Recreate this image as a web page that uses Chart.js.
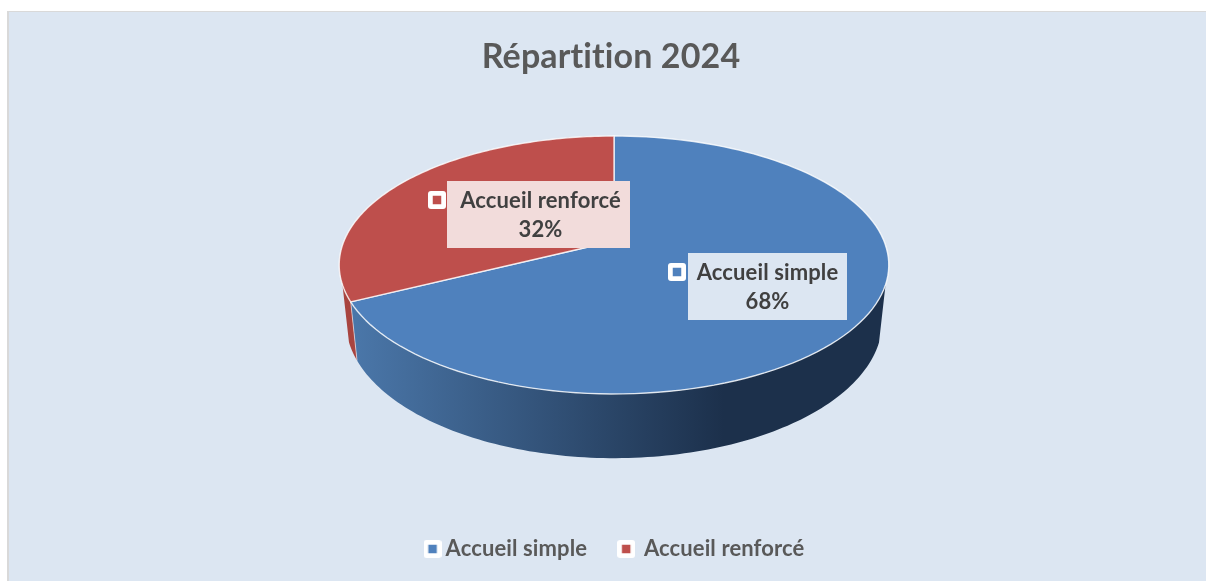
<!DOCTYPE html>
<html>
<head>
<meta charset="utf-8">
<title>Répartition 2024</title>
<script src="https://cdn.jsdelivr.net/npm/chart.js@4/dist/chart.umd.js"></script>
<style>
	html, body { margin: 0; padding: 0; background: #fff; overflow: hidden; }
	#panel { position: absolute; left: 7px; top: 11px; width: 1199px; height: 570px; background: #dce6f2; border-top: 1px solid #d9d9d9; border-left: 2px solid #d9d9d9; box-sizing: border-box; }
	#myChart { position: absolute; left: 22px; top: 0; }
</style>
</head>
<body>
<div id="panel"></div>
<canvas id="myChart" width="1184" height="581"></canvas>
<script>
const categories = ['Accueil simple', 'Accueil renforcé'];
const shares = [67.6, 32.4];
const colors = ['#4f81bd', '#be4f4c'];
const wallColors = [['#4a76a8', '#1c304b'], ['#a8443f', '#a8443f']];
const chartTitle = 'Répartition 2024';

// small white marker with the coloured square inside
function makeMarker(color) {
	const c = document.createElement('canvas');
	c.width = 18;
	c.height = 18;
	const g = c.getContext('2d');
	g.fillStyle = '#fff';
	g.beginPath();
	g.roundRect(0, 0, 18, 18, 3);
	g.fill();
	g.fillStyle = color;
	g.fillRect(4.75, 4.75, 8.5, 8.5);
	return c;
}
const markers = colors.map(makeMarker);

// Perspective view of the disc: the centre of the pie is not the centre of the ellipse
const K = 0.186;
function project(angle, rx, ry, cy, cx) {
	const u = Math.cos(angle), v = Math.sin(angle);
	const w = 1 - K * v;
	return [cx + rx * u / w, cy + ry * v / w];
}
const TOP = {rx: 270, ry: 124.5, cy: 241};
const BOTTOM = {rx: 263.5, ry: 132, cy: 296};
const VISIBLE_FROM = Math.asin(0.33);
const VISIBLE_TO = Math.PI - VISIBLE_FROM;

function traceCurve(ctx, a0, a1, f, cx, first) {
	const steps = 120;
	for (let i = 0; i <= steps; i++) {
		const p = project(a0 + (a1 - a0) * i / steps, f.rx, f.ry, f.cy, cx);
		if (i === 0 && first) ctx.moveTo(p[0], p[1]);
		else ctx.lineTo(p[0], p[1]);
	}
}

// a tiny letter spacing also switches off the Lato "ti" ligature
const textTweak = {
	id: 'textTweak',
	beforeLayout(chart) {
		chart.ctx.letterSpacing = '0.12px';
	},
	afterLayout(chart) {
		// the title sits a little left of the legend
		chart.titleBlock.left -= 13;
	},
	beforeDraw(chart) {
		chart.ctx.letterSpacing = '0.12px';
	}
};

const pie3d = {
	id: 'pie3d',
	beforeDatasetDraw(chart, args) {
		const ctx = chart.ctx;
		const cx = chart.width / 2;
		const arcs = chart.getDatasetMeta(args.index).data;
		// side wall
		arcs.forEach(function (arc, i) {
			const a0 = Math.max(arc.startAngle, VISIBLE_FROM);
			const a1 = Math.min(arc.endAngle, VISIBLE_TO);
			if (a1 <= a0) return;
			const grad = ctx.createLinearGradient(cx - 257, 0, cx + 110, 0);
			grad.addColorStop(0, wallColors[i][0]);
			grad.addColorStop(1, wallColors[i][1]);
			ctx.beginPath();
			traceCurve(ctx, a0, a1, TOP, cx, true);
			traceCurve(ctx, a1, a0, BOTTOM, cx, false);
			ctx.closePath();
			ctx.fillStyle = grad;
			ctx.fill();
		});
		// edge between the two wall parts
		const edge = arcs[0].endAngle;
		const p0 = project(edge, TOP.rx, TOP.ry, TOP.cy, cx);
		const p1 = project(edge, BOTTOM.rx, BOTTOM.ry, BOTTOM.cy, cx);
		ctx.beginPath();
		ctx.moveTo(p0[0], p0[1]);
		ctx.lineTo(p1[0], p1[1]);
		ctx.strokeStyle = 'rgba(255,255,255,0.55)';
		ctx.lineWidth = 1;
		ctx.stroke();
		// top face
		arcs.forEach(function (arc, i) {
			ctx.beginPath();
			ctx.moveTo(cx, TOP.cy);
			traceCurve(ctx, arc.startAngle, arc.endAngle, TOP, cx, false);
			ctx.closePath();
			ctx.fillStyle = colors[i];
			ctx.fill();
			ctx.strokeStyle = 'rgba(255,255,255,0.8)';
			ctx.lineWidth = 1.4;
			ctx.lineJoin = 'round';
			ctx.stroke();
		});
		return false;
	}
};

// label boxes on top of the slices (offsets from the pie centre)
const labelBoxes = [
	{left: 74, top: 253, width: 159, height: 67, fill: '#dce6f2', markerX: 54, markerY: 263},
	{left: -167, top: 181, width: 183, height: 67, fill: '#f2dcdb', markerX: -186, markerY: 191}
];
const sliceLabels = {
	id: 'sliceLabels',
	afterDatasetsDraw(chart) {
		const ctx = chart.ctx;
		const cx = chart.width / 2;
		labelBoxes.forEach(function (b, i) {
			ctx.drawImage(markers[i], cx + b.markerX, b.markerY);
			ctx.fillStyle = b.fill;
			ctx.fillRect(cx + b.left, b.top, b.width, b.height);
			ctx.fillStyle = '#404040';
			ctx.font = 'bold 22px Lato';
			ctx.textAlign = 'center';
			ctx.textBaseline = 'middle';
			const mid = cx + b.left + b.width / 2 + (i === 0 ? 0 : 2);
			ctx.fillText(categories[i], mid, b.top + 20);
			ctx.fillText(Math.round(shares[i]) + '%', mid, b.top + 49);
		});
	}
};

new Chart(document.getElementById('myChart'), {
	type: 'pie',
	data: {
		labels: categories,
		datasets: [{
			data: shares,
			backgroundColor: colors
		}]
	},
	options: {
		responsive: false,
		animation: false,
		events: [],
		layout: {padding: {left: 7, bottom: 11}},
		plugins: {
			title: {
				display: true,
				text: chartTitle,
				color: '#595959',
				font: {family: 'Lato', size: 34, weight: 'bold'},
				padding: {top: 37, bottom: 10}
			},
			legend: {
				position: 'bottom',
				labels: {
					color: '#595959',
					font: {family: 'Lato', size: 22, weight: 'bold'},
					usePointStyle: true,
					pointStyleWidth: 4,
					padding: 37,
					generateLabels: function () {
						return categories.map(function (name, i) {
							return {
								text: (i === 1 ? '\u00a0' : '') + name,
								pointStyle: markers[i],
								fontColor: '#595959',
								lineWidth: 0,
								index: i
							};
						});
					}
				}
			},
			tooltip: {enabled: false}
		}
	},
	plugins: [textTweak, pie3d, sliceLabels]
});
</script>
</body>
</html>
